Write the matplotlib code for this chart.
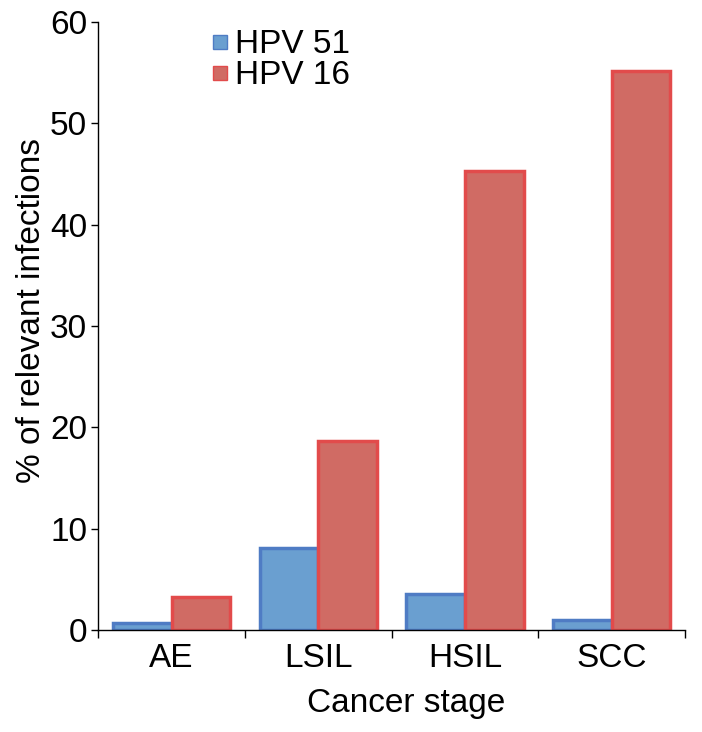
import matplotlib.pyplot as plt
import numpy as np
from matplotlib.lines import Line2D

plt.rcParams['font.family'] = ['Liberation Sans', 'DejaVu Sans']

stages = ["AE", "LSIL", "HSIL", "SCC"]
hpv51 = [0.7, 8.1, 3.6, 1.0]
hpv16 = [3.3, 18.7, 45.3, 55.2]

fig = plt.figure(figsize=(7.02, 7.32), dpi=100)
ax = fig.add_axes([0.140, 0.139, 0.836, 0.831])

x = np.arange(len(stages))
w = 0.4
ax.bar(x - w / 2, hpv51, w, color="#6a9fd0", edgecolor="#4f7cc4", linewidth=2.5)
ax.bar(x + w / 2, hpv16, w, color="#d06b64", edgecolor="#e24b4b", linewidth=2.5)

ax.set_xlim(-0.5, 3.5)
ax.set_ylim(0, 60)
ax.set_yticks(range(0, 61, 10))
ax.set_xticks(x)
ax.set_xticklabels(stages)
ax.set_xticks(np.arange(-0.5, 4.0, 1.0), minor=True)
ax.tick_params(axis="x", which="major", length=0, pad=9, labelsize=24)
ax.tick_params(axis="x", which="minor", length=6, width=1)
ax.tick_params(axis="y", length=5, width=1, labelsize=24, pad=3)

for s in ["top", "right"]:
    ax.spines[s].set_visible(False)
for s in ["left", "bottom"]:
    ax.spines[s].set_linewidth(1)

ax.set_xlabel("Cancer stage", fontsize=24, labelpad=11)
ax.xaxis.set_label_coords(0.525, -0.095)
ax.set_ylabel("% of relevant infections", fontsize=24, labelpad=8)
ax.yaxis.set_label_coords(-0.088, 0.525)

handles = [
    Line2D([], [], marker="s", linestyle="none", markersize=10,
           markerfacecolor="#6a9fd0", markeredgecolor="#4f7cc4"),
    Line2D([], [], marker="s", linestyle="none", markersize=10,
           markerfacecolor="#d06b64", markeredgecolor="#e24b4b"),
]
ax.legend(handles, ["HPV 51", "HPV 16"], loc="upper left",
          bbox_to_anchor=(0.17, 1.01), frameon=False, fontsize=24,
          handlelength=0.5, handletextpad=0.2, labelspacing=0.0,
          borderaxespad=0)

fig.savefig("out.png", dpi=100)
